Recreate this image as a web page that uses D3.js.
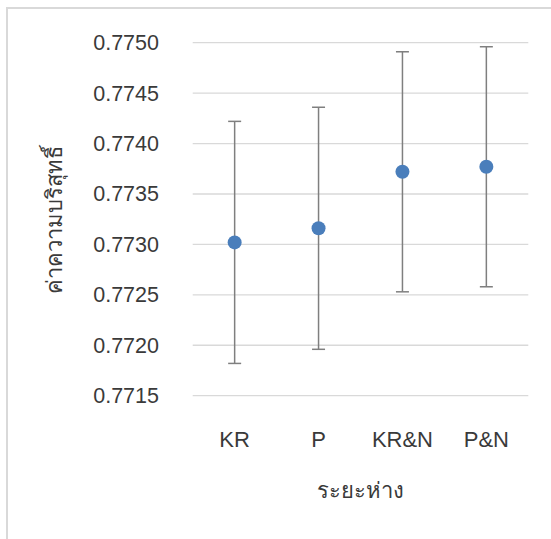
<!DOCTYPE html>
<html>
<head>
<meta charset="utf-8">
<script src="https://cdn.jsdelivr.net/npm/d3@7"></script>
<style>
  body { margin: 0; background: #fff; }
  text { font-family: "Liberation Sans", Arial, sans-serif; }
</style>
</head>
<body>
<div id="chart"></div>
<script>
// chart data
var categories = ["KR", "P", "KR&N", "P&N"];
var means = [0.77302, 0.77316, 0.77372, 0.77377];
var errors = [0.00120, 0.00120, 0.00119, 0.00119];
var yTicks = [0.7715, 0.7720, 0.7725, 0.7730, 0.7735, 0.7740, 0.7745, 0.7750];

var width = 551, height = 539;
var plot = { left: 192.7, right: 528.3, top: 42.7, bottom: 395.7 };

var svg = d3.select("#chart")
    .append("svg")
    .attr("width", width)
    .attr("height", height);

// chart area border (cropped on right and bottom)
svg.append("rect")
    .attr("x", 7)
    .attr("y", 8)
    .attr("width", 700)
    .attr("height", 700)
    .attr("fill", "#fff")
    .attr("stroke", "#d9d9d9")
    .attr("stroke-width", 2);

var x = d3.scaleBand()
    .domain(categories)
    .range([plot.left, plot.right]);

var y = d3.scaleLinear()
    .domain([0.7715, 0.7750])
    .range([plot.bottom, plot.top]);

// gridlines
svg.selectAll(".grid")
    .data(yTicks)
    .enter()
    .append("line")
    .attr("x1", plot.left)
    .attr("x2", plot.right)
    .attr("y1", function (d) { return y(d); })
    .attr("y2", function (d) { return y(d); })
    .attr("stroke", "#d9d9d9")
    .attr("stroke-width", 1.3);

// y tick labels
svg.selectAll(".ylab")
    .data(yTicks)
    .enter()
    .append("text")
    .attr("x", 159)
    .attr("y", function (d) { return y(d) + 7.5; })
    .attr("text-anchor", "end")
    .style("font-size", "21.5px")
    .style("fill", "#3a3a3a")
    .text(function (d) { return d3.format(".4f")(d); });

// x labels
svg.selectAll(".xlab")
    .data(categories)
    .enter()
    .append("text")
    .attr("x", function (d) { return x(d) + x.bandwidth() / 2; })
    .attr("y", 447)
    .attr("text-anchor", "middle")
    .style("font-size", "22px")
    .style("fill", "#3a3a3a")
    .text(function (d) { return d; });

// error bars
var bars = svg.selectAll(".err")
    .data(categories)
    .enter()
    .append("g")
    .attr("stroke", "#7f7f7f")
    .attr("stroke-width", 1.5);

bars.append("line")
    .attr("x1", function (d) { return x(d) + x.bandwidth() / 2; })
    .attr("x2", function (d) { return x(d) + x.bandwidth() / 2; })
    .attr("y1", function (d, i) { return y(means[i] + errors[i]); })
    .attr("y2", function (d, i) { return y(means[i] - errors[i]); });

bars.append("line")
    .attr("x1", function (d) { return x(d) + x.bandwidth() / 2 - 6.5; })
    .attr("x2", function (d) { return x(d) + x.bandwidth() / 2 + 6.5; })
    .attr("y1", function (d, i) { return y(means[i] + errors[i]); })
    .attr("y2", function (d, i) { return y(means[i] + errors[i]); });

bars.append("line")
    .attr("x1", function (d) { return x(d) + x.bandwidth() / 2 - 6.5; })
    .attr("x2", function (d) { return x(d) + x.bandwidth() / 2 + 6.5; })
    .attr("y1", function (d, i) { return y(means[i] - errors[i]); })
    .attr("y2", function (d, i) { return y(means[i] - errors[i]); });

// points
svg.selectAll(".pt")
    .data(categories)
    .enter()
    .append("circle")
    .attr("cx", function (d) { return x(d) + x.bandwidth() / 2; })
    .attr("cy", function (d, i) { return y(means[i]); })
    .attr("r", 7)
    .attr("fill", "#4a7ebb");

// axis titles
svg.append("text")
    .attr("x", (plot.left + plot.right) / 2)
    .attr("y", 498)
    .attr("text-anchor", "middle")
    .style("font-size", "22px")
    .style("fill", "#3a3a3a")
    .text("ระยะห่าง");

svg.append("text")
    .attr("transform", "translate(62,220) rotate(-90)")
    .attr("text-anchor", "middle")
    .style("font-size", "22px")
    .style("fill", "#3a3a3a")
    .text("ค่าความบริสุทธิ์");
</script>
</body>
</html>
